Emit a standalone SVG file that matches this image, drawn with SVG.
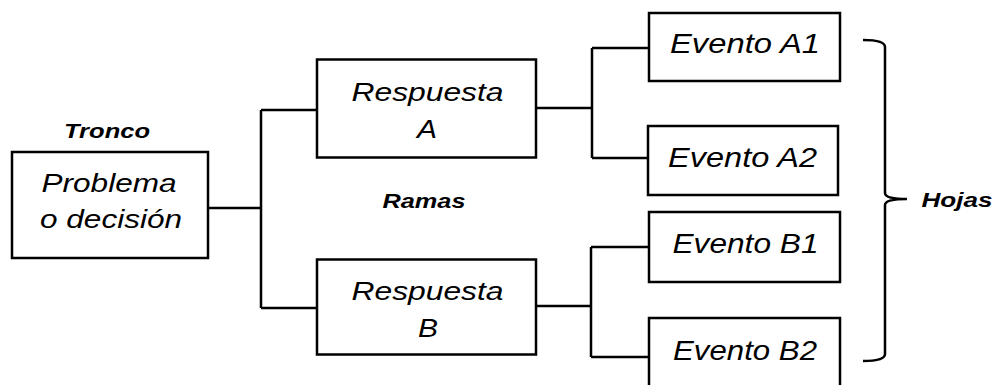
<svg xmlns="http://www.w3.org/2000/svg" width="994" height="385" viewBox="0 0 994 385">
  <style>
    .box { fill: #ffffff; stroke: #000000; stroke-width: 2.5; }
    .wire { fill: none; stroke: #000000; stroke-width: 2.5; }
    .t { font-family: "Liberation Sans", Arial, sans-serif; font-style: italic; font-size: 26px; fill: #000000; text-anchor: middle; }
    .ev { font-size: 28px; }
    .lbl { font-family: "Liberation Sans", Arial, sans-serif; font-style: italic; font-weight: bold; font-size: 20px; fill: #000000; text-anchor: middle; }
  </style>
  <rect width="994" height="385" fill="#ffffff"/>

  <!-- tree connectors -->
  <g id="connectors">
    <path class="wire" d="M208,208 H261 M261,110 V308 M261,110 H317 M261,308 H317"/>
    <path class="wire" d="M536,108 H592 M592,48 V158 M592,48 H649 M592,158 H648"/>
    <path class="wire" d="M536,306 H591 M591,247 V357 M591,247 H649 M591,357 H649"/>
    <!-- brace grouping the leaves -->
    <path class="wire" d="M863,40 Q885,40 885,47 V193 Q885,199 907,199 Q885,199 885,205 V354 Q885,361 863,361"/>
  </g>

  <g id="tronco-label">
    <text class="lbl" x="107" y="138" textLength="86" lengthAdjust="spacingAndGlyphs">Tronco</text>
  </g>
  <g id="ramas-label">
    <text class="lbl" x="424" y="208" textLength="83" lengthAdjust="spacingAndGlyphs">Ramas</text>
  </g>
  <g id="hojas-label">
    <text class="lbl" x="957" y="207" textLength="71" lengthAdjust="spacingAndGlyphs">Hojas</text>
  </g>

  <g id="problema">
    <rect class="box" x="12" y="152" width="196" height="106"/>
    <text class="t" x="109" y="192" textLength="135" lengthAdjust="spacingAndGlyphs">Problema</text>
    <text class="t" x="111" y="228" textLength="142" lengthAdjust="spacingAndGlyphs">o decisión</text>
  </g>

  <g id="respuesta-a">
    <rect class="box" x="317" y="59.5" width="219" height="98"/>
    <text class="t" x="427.5" y="101" textLength="152" lengthAdjust="spacingAndGlyphs">Respuesta</text>
    <text class="t" x="427" y="138" textLength="20" lengthAdjust="spacingAndGlyphs">A</text>
  </g>

  <g id="respuesta-b">
    <rect class="box" x="317" y="259.5" width="219" height="95"/>
    <text class="t" x="427.5" y="300" textLength="152" lengthAdjust="spacingAndGlyphs">Respuesta</text>
    <text class="t" x="428" y="337" textLength="20" lengthAdjust="spacingAndGlyphs">B</text>
  </g>

  <g id="evento-a1">
    <rect class="box" x="649" y="13" width="191" height="68"/>
    <text class="t ev" x="745" y="53" textLength="150" lengthAdjust="spacingAndGlyphs">Evento A1</text>
  </g>

  <g id="evento-a2">
    <rect class="box" x="648" y="126" width="190" height="69"/>
    <text class="t ev" x="742.5" y="167" textLength="149" lengthAdjust="spacingAndGlyphs">Evento A2</text>
  </g>

  <g id="evento-b1">
    <rect class="box" x="649" y="212" width="191" height="70"/>
    <text class="t ev" x="745.5" y="253" textLength="146" lengthAdjust="spacingAndGlyphs">Evento B1</text>
  </g>

  <g id="evento-b2">
    <rect class="box" x="649" y="318" width="191" height="80"/>
    <text class="t ev" x="745" y="360" textLength="144" lengthAdjust="spacingAndGlyphs">Evento B2</text>
  </g>
</svg>
